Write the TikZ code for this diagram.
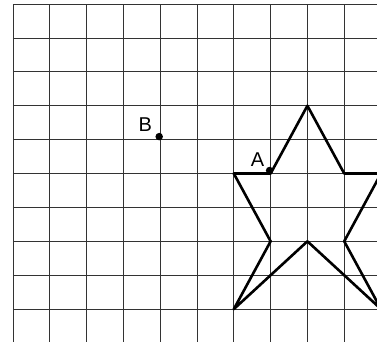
\documentclass[tikz,border=0pt]{standalone}
\usepackage{fontspec}
\setmainfont{Liberation Sans}
\usetikzlibrary{positioning}

\begin{document}
\begin{tikzpicture}[
    x=36.8pt, y=-33.9pt,
    every node/.style={font=\fontsize{20}{20}\selectfont},
    gridline/.style={black!80, line width=0.8pt},
    star/.style={line width=2.6pt, line join=round},
    dot/.style={circle, fill, inner sep=0pt, minimum size=7.5pt, xshift=-1pt, yshift=3pt}
]

\useasboundingbox (-0.353,-0.118) rectangle (9.891,9.941);
\clip (-0.353,-0.118) rectangle (9.891,9.941);

\foreach \i in {0,...,9}
    \draw[gridline] (\i,0) -- (\i,10);
\foreach \j in {0,...,9}
    \draw[gridline] (0,\j) -- (10,\j);

\draw[star] (8,3) -- (9,5) -- (10,5) -- (9,7) -- (10,9) -- (8,7) -- (6,9) -- (7,7) -- (6,5) -- (7,5) -- cycle;

\node[dot] (A) at (7,5) {};
\node[dot] (B) at (4,4) {};

\node[above left=-2pt and -1pt of A] (labA) {A};
\node[above left=-1pt and 1pt of B] (labB) {B};

\end{tikzpicture}
\end{document}
